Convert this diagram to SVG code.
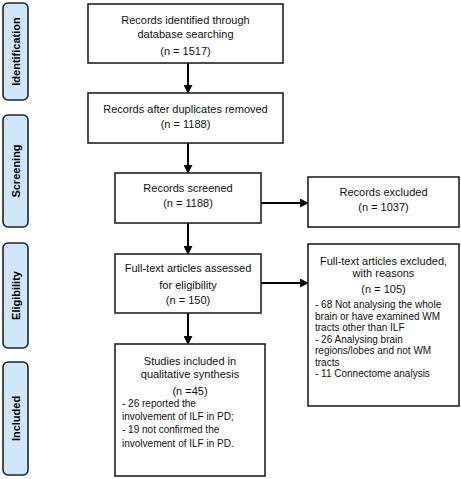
<svg xmlns="http://www.w3.org/2000/svg" width="461" height="479" viewBox="0 0 461 479">
<style>
.box{fill:#fff;stroke:#222;stroke-width:1.6}
.phase{fill:#cfe7fb;stroke:#222;stroke-width:1.6}
.t{font-family:"Liberation Sans",Arial,sans-serif;font-size:11px;fill:#111;text-anchor:middle}
.l{font-family:"Liberation Sans",Arial,sans-serif;font-size:10px;fill:#111}
.p{font-family:"Liberation Sans",Arial,sans-serif;font-size:11px;font-weight:bold;fill:#000;text-anchor:middle}
.c{stroke:#000;stroke-width:2;fill:none;marker-end:url(#ah)}
</style>
<defs>
<marker id="ah" viewBox="0 0 10 10" refX="9" refY="5" markerWidth="4.5" markerHeight="4.5" orient="auto" markerUnits="strokeWidth">
<path d="M0,0 L10,5 L0,10 Z" fill="#000"/>
</marker>
</defs>
<rect width="461" height="479" fill="#fff"/>
<g id="phase-identification"><rect class="phase" x="3" y="3" width="25" height="97" rx="5"/><text class="p" transform="translate(19.5,51.5) rotate(-90)">Identification</text></g>
<g id="phase-screening"><rect class="phase" x="3" y="115" width="25" height="112" rx="5"/><text class="p" transform="translate(19.5,171) rotate(-90)">Screening</text></g>
<g id="phase-eligibility"><rect class="phase" x="3" y="243" width="25" height="105" rx="5"/><text class="p" transform="translate(19.5,295.5) rotate(-90)">Eligibility</text></g>
<g id="phase-included"><rect class="phase" x="3" y="362" width="25" height="113" rx="5"/><text class="p" transform="translate(19.5,418.5) rotate(-90)">Included</text></g>
<g id="connectors">
<line class="c" x1="188" y1="63" x2="188" y2="93"/>
<line class="c" x1="188" y1="143" x2="188" y2="173"/>
<line class="c" x1="188" y1="223" x2="188" y2="254"/>
<line class="c" x1="188" y1="313" x2="188" y2="344"/>
<line class="c" x1="261" y1="203" x2="308" y2="203"/>
<line class="c" x1="261" y1="283" x2="308" y2="283"/>
</g>
<g id="n-identified"><rect class="box" x="88" y="4" width="195" height="59"/>
<text class="t" x="185.5" y="24">Records identified through</text>
<text class="t" x="185.5" y="38">database searching</text>
<text class="t" x="185.5" y="55">(n = 1517)</text></g>
<g id="n-duplicates"><rect class="box" x="88" y="93" width="195" height="50"/>
<text class="t" x="185.5" y="113">Records after duplicates removed</text>
<text class="t" x="185.5" y="128">(n = 1188)</text></g>
<g id="n-screened"><rect class="box" x="115" y="173" width="146" height="50"/>
<text class="t" x="188" y="192">Records screened</text>
<text class="t" x="188" y="207">(n = 1188)</text></g>
<g id="n-excluded"><rect class="box" x="308" y="177" width="151" height="50"/>
<text class="t" x="383.5" y="196">Records excluded</text>
<text class="t" x="383.5" y="211">(n = 1037)</text></g>
<g id="n-fulltext"><rect class="box" x="115" y="254" width="146" height="59"/>
<text class="t" x="188" y="272">Full-text articles assessed</text>
<text class="t" x="188" y="289">for eligibility</text>
<text class="t" x="188" y="304">(n = 150)</text></g>
<g id="n-fulltext-excluded"><rect class="box" x="308" y="244" width="151" height="162"/>
<text class="t" x="383.5" y="265">Full-text articles excluded,</text>
<text class="t" x="383.5" y="277">with reasons</text>
<text class="t" x="383.5" y="293">(n = 105)</text>
<text class="l" x="315" y="308">-  68 Not analysing the whole</text>
<text class="l" x="315" y="320">brain or have examined WM</text>
<text class="l" x="315" y="331">tracts other than ILF</text>
<text class="l" x="315" y="343">- 26 Analysing brain</text>
<text class="l" x="315" y="354">regions/lobes and not WM</text>
<text class="l" x="315" y="366">tracts</text>
<text class="l" x="315" y="377">- 11 Connectome analysis</text></g>
<g id="n-included"><rect class="box" x="115" y="344" width="150" height="132"/>
<text class="t" x="190" y="365">Studies included in</text>
<text class="t" x="190" y="378">qualitative synthesis</text>
<text class="t" x="190" y="395">(n =45)</text>
<text class="l" x="122" y="407">- 26 reported the</text>
<text class="l" x="122" y="420">involvement of ILF in PD;</text>
<text class="l" x="122" y="433">- 19 not confirmed the</text>
<text class="l" x="122" y="447">involvement of ILF in PD.</text></g>
</svg>
